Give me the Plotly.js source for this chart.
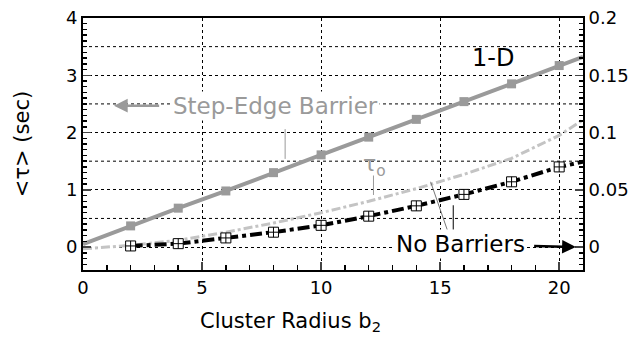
<!DOCTYPE html>
<html><head><meta charset="utf-8">
<script src="https://cdn.plot.ly/plotly-3.0.1.min.js"></script>
<style>html,body{margin:0;padding:0;background:#fff}#c{width:633px;height:345px}</style>
</head><body><div id="c"></div>
<script>
// Step-Edge Barrier (left axis, sec)
const stepX = [0, 2, 4, 6, 8, 10, 12, 14, 16, 18, 20, 21];
const stepY = [0.05, 0.37, 0.68, 0.98, 1.30, 1.61, 1.92, 2.23, 2.54, 2.85, 3.17, 3.32];
const stepMarkX = [2, 4, 6, 8, 10, 12, 14, 16, 18, 20];
const stepMarkY = [0.37, 0.68, 0.98, 1.30, 1.61, 1.92, 2.23, 2.54, 2.85, 3.17];
// tau_0 curve (left axis)
const tauX = [0, 2, 4, 6, 8, 10, 12, 14, 16, 18, 20, 21];
const tauY = [-0.03, 0.03, 0.12, 0.26, 0.42, 0.60, 0.80, 1.02, 1.27, 1.55, 1.95, 2.22];
// No Barriers (right axis)
const noX = [2, 4, 6, 8, 10, 12, 14, 16, 18, 20, 21];
const noY = [0.001, 0.003, 0.008, 0.013, 0.019, 0.027, 0.036, 0.046, 0.057, 0.070, 0.0745];
const noMarkX = [2, 4, 6, 8, 10, 12, 14, 16, 18, 20];
const noMarkY = [0.001, 0.003, 0.008, 0.013, 0.019, 0.027, 0.036, 0.046, 0.057, 0.070];
// ticks
const xTickVals = [0, 5, 10, 15, 20];
const yTickVals = [0, 1, 2, 3, 4];
const yHalfGrid = [0.5, 1.5, 2.5, 3.5];
const y2TickVals = [0, 0.05, 0.1, 0.15, 0.2];
const y2TickText = ['0', '0.05', '0.1', '0.15', '0.2'];

const GRAY = '#9a9a9a', LGRAY = '#c4c4c4';
const F = 'DejaVu Sans, Liberation Sans, sans-serif';

const traces = [
  {x: tauX, y: tauY, mode: 'lines', line: {color: LGRAY, width: 3, dash: 'dashdot'}, hoverinfo: 'skip'},
  {x: stepX, y: stepY, mode: 'lines', line: {color: GRAY, width: 4}},
  {x: stepMarkX, y: stepMarkY, mode: 'markers', marker: {symbol: 'square', size: 9, color: GRAY}},
  {x: noX, y: noY, yaxis: 'y2', mode: 'lines', line: {color: '#000', width: 4, dash: 'dashdot'}},
  {x: noMarkX, y: noMarkY, yaxis: 'y2', mode: 'markers', marker: {symbol: 'square-cross', size: 10, color: '#fff', line: {color: '#000', width: 1}}}
];

const shapes = yHalfGrid.map(v => ({type: 'line', xref: 'paper', yref: 'y', x0: 0, x1: 1, y0: v, y1: v, layer: 'below',
  line: {color: '#000', width: 1, dash: 'dot'}}));
shapes.push(
  {type: 'line', xref: 'x', yref: 'y', x0: 8.49, x1: 8.49, y0: 2.06, y1: 1.54, line: {color: GRAY, width: 1}},
  {type: 'line', xref: 'x', yref: 'y', x0: 12.2, x1: 12.2, y0: 1.25, y1: 0.91, line: {color: GRAY, width: 1}},
  {type: 'line', xref: 'x', yref: 'y', x0: 15.3, x1: 14.6, y0: 0.30, y1: 1.14, line: {color: '#777', width: 1}},
  {type: 'line', xref: 'x', yref: 'y', x0: 15.55, x1: 15.55, y0: 0.30, y1: 0.73, line: {color: '#000', width: 1}}
);

const layout = {
  width: 633, height: 345,
  margin: {l: 83, r: 50, t: 18, b: 75},
  showlegend: false,
  paper_bgcolor: '#fff', plot_bgcolor: '#fff',
  font: {family: F, size: 18, color: '#000'},
  xaxis: {
    range: [0, 21], tickvals: xTickVals, ticks: 'inside', ticklen: 8, tickwidth: 1.5,
    showline: true, linewidth: 2, linecolor: '#000', mirror: true,
    showgrid: true, gridcolor: '#000', gridwidth: 1, griddash: 'dot',
    zeroline: false,
    minor: {dtick: 1, ticks: 'inside', ticklen: 5, tickcolor: '#000', showgrid: false},
    tickfont: {size: 18}
  },
  yaxis: {
    range: [-0.4, 4], tickvals: yTickVals, ticks: 'inside', ticklen: 8, tickwidth: 1.5,
    showline: true, linewidth: 2, linecolor: '#000',
    showgrid: true, gridcolor: '#000', gridwidth: 1, griddash: 'dot',
    zeroline: false,
    minor: {dtick: 0.1, ticks: 'inside', ticklen: 4, tickcolor: '#000', showgrid: false},
    title: {text: '<τ> (sec)', font: {size: 21}, standoff: 31},
    tickfont: {size: 18}
  },
  yaxis2: {
    overlaying: 'y', side: 'right', range: [-0.02, 0.2],
    tickvals: y2TickVals, ticktext: y2TickText, ticks: 'inside', ticklen: 8, tickwidth: 1.5,
    showline: true, linewidth: 2, linecolor: '#000',
    showgrid: false, zeroline: false,
    minor: {dtick: 0.005, ticks: 'inside', ticklen: 4, tickcolor: '#000', showgrid: false},
    tickfont: {size: 18}
  },
  annotations: [
    {x: 0.414, y: 322, xref: 'paper', yref: 'paper', yanchor: 'middle', xanchor: 'center',
      text: 'Cluster Radius b<sub>2</sub>', showarrow: false, font: {size: 21, color: '#000'}},
    {x: 17.2, y: 3.3, xref: 'x', yref: 'y', text: '1-D', showarrow: false, font: {size: 24, color: '#000'}},
    {x: 1.3, y: 2.47, ax: 8.07, ay: 2.47, xref: 'x', yref: 'y', axref: 'x', ayref: 'y',
      text: 'Step-Edge Barrier', showarrow: true, startstandoff: 12, arrowhead: 2, arrowsize: 1.1, arrowwidth: 2.5, arrowcolor: GRAY,
      font: {size: 23, color: GRAY}, bgcolor: '#fff'},
    {x: 12.25, y: 1.42, xref: 'x', yref: 'y', text: 'τ<sub>o</sub>', showarrow: false, font: {size: 22, color: GRAY}},
    {x: 20.7, y: 0.0, ax: 15.84, ay: 0.05, xref: 'x', yref: 'y', axref: 'x', ayref: 'y',
      text: 'No Barriers', showarrow: true, startstandoff: 8, arrowhead: 2, arrowsize: 1.1, arrowwidth: 2.5, arrowcolor: '#000',
      font: {size: 23, color: '#000'}, bgcolor: '#fff'}
  ],
  shapes: shapes
};
// x title placed in paper coords: y from pixel 322 (plot bottom at 270, height 252)
layout.annotations[0].y = (270 - 322) / 252;

Plotly.newPlot('c', traces, layout, {staticPlot: true, displayModeBar: false});
</script>
</body></html>
